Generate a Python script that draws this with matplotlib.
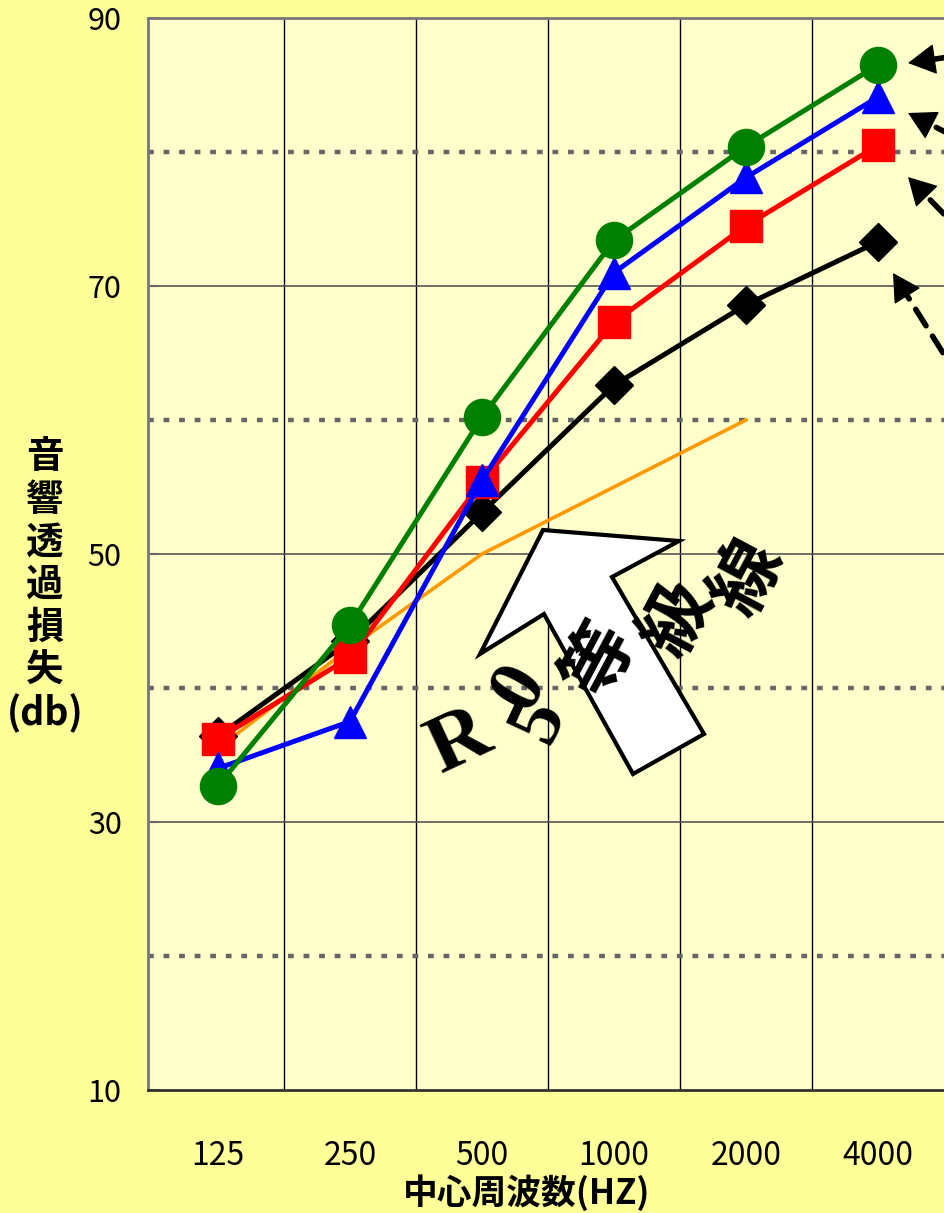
import matplotlib
matplotlib.use("Agg")
import matplotlib.pyplot as plt
from matplotlib.patches import Polygon

# data
freqs = ["125", "250", "500", "1000", "2000", "4000"]
green = [32.7, 44.7, 60.2, 73.4, 80.4, 86.5]
blue = [34.0, 37.5, 55.5, 71.0, 78.1, 84.1]
red = [36.2, 42.3, 55.4, 67.3, 74.5, 80.5]
black = [36.4, 43.5, 53.1, 62.6, 68.6, 73.3]
orange = [35.5, 43.0, 50.0, 55.0, 60.0]   # R50 line, stops at 2000
y_ticks = [10, 30, 50, 70, 90]
solid_levels = [30, 50, 70]
dotted_levels = [20, 40, 60, 80]

W, H = 944, 1213
num_font = ["Noto Sans CJK JP", "DejaVu Sans"]
jp_font = ["Noto Sans CJK JP", "DejaVu Sans"]

fig = plt.figure(figsize=(W / 100, H / 100), dpi=100, facecolor="#FFFF99")
ax = fig.add_axes([148 / W, 1 - 1090 / H, 1 - 148 / W, (1090 - 18) / H])
ax.set_facecolor("#FFFFCC")

x = list(range(len(freqs)))
ax.set_xlim(-0.53, 5.5)
ax.set_ylim(10, 90)

# grid
for i in range(len(freqs) - 1):
    ax.axvline(i + 0.5, color="black", lw=1, zorder=1)
for lv in solid_levels:
    ax.axhline(lv, color="#555555", lw=1.2, zorder=1)
for lv in dotted_levels:
    ax.axhline(lv, color="#666666", lw=3.2, ls=(0, (1.3, 2.2)), zorder=1)

# series
ax.plot(x[:len(orange)], orange, color="#FF9900", lw=2.6, zorder=2)
ax.plot(x, black, color="black", lw=3.6, marker="D", ms=19, zorder=3)
ax.plot(x, red, color="red", lw=3.6, marker="s", ms=23, zorder=4)
ax.plot(x, blue, color="blue", lw=3.6, marker="^", ms=23, zorder=5)
ax.plot(x, green, color="green", lw=3.6, marker="o", ms=26, zorder=6)

ax.set_xticks(x)
ax.set_xticklabels(freqs, fontsize=23, family=num_font)
ax.set_yticks(y_ticks)
ax.set_yticklabels([str(v) for v in y_ticks], fontsize=22, family=num_font)
ax.tick_params(axis="x", length=0, pad=36)
ax.tick_params(axis="y", direction="in", length=8, width=1.5, color="#666666", pad=19)
for side in ["left", "top", "bottom"]:
    ax.spines[side].set_color("#777777")
    ax.spines[side].set_linewidth(2)
ax.spines["bottom"].set_color("#333333")
ax.spines["right"].set_visible(False)

# axis titles
fig.text(527 / W, 1 - 1193 / H, "中心周波数(HZ)", ha="center", va="center",
         fontsize=25, fontweight="bold", family=jp_font)
fig.text(45 / W, 1 - 585 / H, "音\n響\n透\n過\n損\n失\n(db)", ha="center", va="center",
         fontsize=27, fontweight="bold", family=jp_font, linespacing=1.12)

# big white arrow
def fp(px, py):
    return (px / W, 1 - py / H)

arrow_pts = [(543, 530), (679, 541), (612, 577), (704, 734), (633, 774), (544, 614), (480, 654)]
fig.patches.append(Polygon([fp(*p) for p in arrow_pts], closed=True, facecolor="white",
                           edgecolor="black", lw=3, transform=fig.transFigure, zorder=7))

# rotated caption
for ch, px, py, rot, fam, size in [("R", 460, 743, 25, "Liberation Serif", 60),
                                   ("5", 540, 720, 65, "Liberation Serif", 56),
                                   ("0", 521, 688, 60, "Liberation Serif", 56),
                                   ("等", 601, 660, 62, "Noto Sans CJK JP", 52),
                                   ("級", 678, 618, 62, "Noto Sans CJK JP", 52),
                                   ("線", 748, 578, 62, "Noto Sans CJK JP", 52)]:
    fig.text(px / W, 1 - py / H, ch, ha="center", va="center", rotation=rot,
             fontsize=size, fontweight="bold", family=fam, zorder=8)

# dashed pointers toward the 4000 Hz markers (tails run off the right edge)
for head, tail in [((908, 63), (1010, 48)), ((908, 113), (1010, 165)),
                   ((908, 177), (1010, 282)), ((893, 273), (1010, 460))]:
    hx, hy = head[0], H - head[1]
    tx, ty = tail[0], H - tail[1]
    ax.annotate("", xy=(hx, hy), xycoords="figure pixels",
                xytext=(tx, ty), textcoords="figure pixels", annotation_clip=False,
                arrowprops=dict(arrowstyle="-", color="black", lw=4,
                                ls=(0, (3.5, 2.2)), shrinkA=0, shrinkB=14))
    # solid head
    dx, dy = tx - hx, ty - hy
    d = (dx * dx + dy * dy) ** 0.5
    ax.annotate("", xy=(hx, hy), xycoords="figure pixels",
                xytext=(hx + dx / d * 20, hy + dy / d * 20), textcoords="figure pixels",
                annotation_clip=False,
                arrowprops=dict(arrowstyle="-|>,head_length=0.9,head_width=0.5",
                                mutation_scale=20, color="black", lw=1,
                                shrinkA=0, shrinkB=0))

fig.savefig("out.png", dpi=100, facecolor=fig.get_facecolor())
